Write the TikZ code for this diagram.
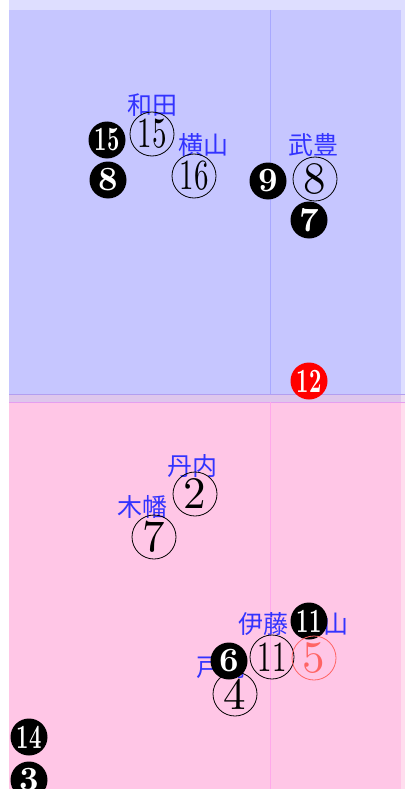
\documentclass[tikz,border=0pt]{standalone}
\usepackage{fontspec}
\newfontfamily\jpfont{Noto Sans CJK JP}
\usetikzlibrary{positioning}
\definecolor{paleblue}{HTML}{DEDEFF}
\definecolor{fieldblue}{HTML}{C6C6FF}
\definecolor{palepink}{HTML}{FFDDEE}
\definecolor{fieldpink}{HTML}{FFC6E6}
\definecolor{bandmix}{HTML}{DEC6EC}
\definecolor{bandpale}{HTML}{EEDDF2}
\definecolor{jockeyblue}{HTML}{3333FF}
\definecolor{fadedred}{HTML}{FF6464}
% digits scaled from 10pt text
\newcommand{\onedig}[1]{\scalebox{4.5}{#1}}
\newcommand{\twodig}[1]{\scalebox{2.9}[4.3]{#1}}
\newcommand{\onedark}[1]{\scalebox{3.4}{\bfseries #1}}
\newcommand{\twodark}[1]{\scalebox{2.15}[3.4]{\bfseries #1}}
\tikzset{
  horse/.style={circle,draw=black,line width=0.8pt,minimum size=44pt,inner sep=0pt},
  horsedark/.style={circle,fill=black,text=white,minimum size=37pt,inner sep=0pt},
  jockey/.style={text=jockeyblue,inner sep=0pt,font=\jpfont\fontsize{25}{25}\selectfont},
}

\begin{document}
\begin{tikzpicture}[x=1pt,y=-1pt]
    \useasboundingbox (0,0) rectangle (405,789);
    \clip (0,0) rectangle (405,789);
    % backgrounds
    \fill[paleblue] (9,0) rectangle (405,394);
    \fill[fieldblue] (9,10) rectangle (401,394);
    \fill[palepink] (9,402) rectangle (405,789);
    \fill[fieldpink] (9,402) rectangle (401,789);
    \fill[bandpale] (9,394) rectangle (405,402);
    \fill[bandmix] (9,394) rectangle (401,402);
    \draw[color=bandmix!80!blue,line width=0.5pt] (9,394) -- (405,394);
    \draw[color=bandmix!80!magenta,line width=0.5pt] (9,402) -- (405,402);
    \draw[color=fieldblue!85!blue,line width=0.6pt] (270,10) -- (270,394);
    \draw[color=fieldpink!85!magenta,line width=0.6pt] (270,402) -- (270,789);

    % upper field
    \node[jockey] (wada) at (152,105) {和田};
    \node[horse] (h15) at (152,134) {\twodig{15}};
    \node[horsedark] (d15) at (107,140) {\twodark{15}};
    \node[horsedark] (d8) at (108,180) {\onedark{8}};
    \node[jockey] (yokoyama) at (203,145) {横山};
    \node[horse] (h16) at (194,176) {\twodig{16}};
    \node[jockey] (take) at (313,145) {武豊};
    \node[horse] (h8) at (315,179) {\onedig{8}};
    \node[horsedark] (d9) at (268,181) {\onedark{9}};
    \node[horsedark] (d7) at (309,220) {\onedark{7}};
    \node[horsedark,fill=red] (d12) at (309,381) {\twodark{12}};

    % lower field
    \node[jockey] (tannai) at (192,466) {丹内};
    \node[horse] (h2) at (195,494) {\onedig{2}};
    \node[jockey] (kowata) at (142,507) {木幡};
    \node[horse] (h7) at (154,537) {\onedig{7}};
    \node[jockey] (ito) at (263,624) {伊藤};
    \node[jockey] (maruyama) at (323,624) {横山};
    \node[horsedark] (d11) at (309,621) {\twodark{11}};
    \node[horse] (h11) at (272,657) {\twodig{11}};
    \node[horse,draw=fadedred,text=fadedred] (h5) at (314,658) {\onedig{5}};
    \node[jockey] (tosaki) at (221,667) {戸崎};
    \node[horse] (h4) at (235,694) {\onedig{4}};
    \node[horsedark] (d6) at (229,661) {\onedark{6}};
    \node[horsedark] (d14) at (29,737) {\twodark{14}};
    \node[horsedark] (d3) at (29,780) {\onedark{3}};
\end{tikzpicture}
\end{document}
